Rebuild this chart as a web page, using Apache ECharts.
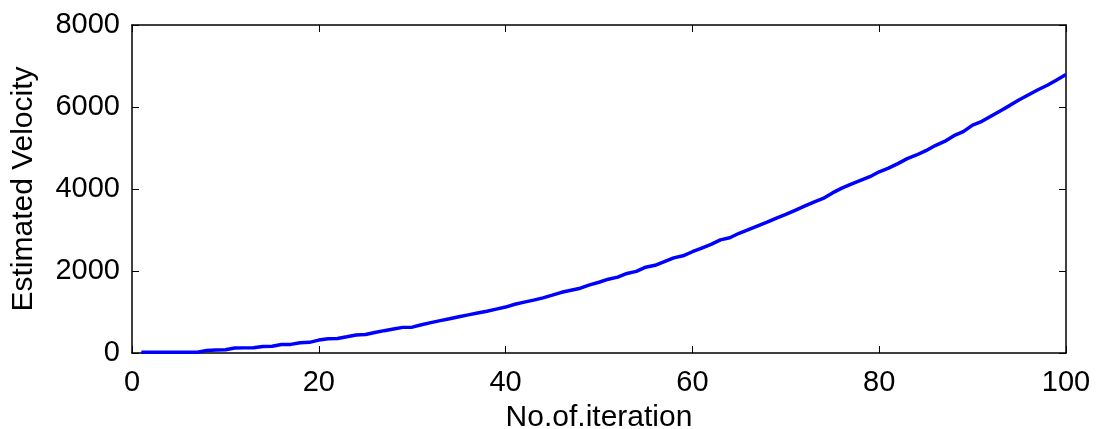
<!DOCTYPE html>
<html>
<head>
<meta charset="utf-8">
<script src="https://cdn.jsdelivr.net/npm/echarts@6/dist/echarts.min.js"></script>
<style>
  html, body { margin: 0; padding: 0; background: #fff; }
  #chart { width: 1097px; height: 429px; }
</style>
</head>
<body>
<div id="chart"></div>
<script>
// iterations 1..100
const iterations = [];
for (let i = 1; i <= 100; i++) iterations.push(i);

// estimated velocity
const velocity = [
  20, 20, 20, 20, 20, 20, 20, 60, 75, 78,
  120, 125, 128, 160, 166, 205, 210, 250, 260, 315,
  350, 352, 395, 440, 451, 500, 545, 585, 625, 630,
  690, 740, 790, 835, 885, 930, 975, 1020, 1070, 1120,
  1190, 1240, 1290, 1345, 1410, 1480, 1530, 1580, 1660, 1725,
  1800, 1850, 1940, 1990, 2093, 2140, 2230, 2320, 2370, 2470,
  2560, 2650, 2760, 2810, 2920, 3010, 3100, 3190, 3290, 3380,
  3480, 3580, 3680, 3770, 3905, 4020, 4120, 4210, 4300, 4420,
  4510, 4620, 4740, 4830, 4935, 5060, 5160, 5300, 5400, 5557,
  5650, 5780, 5910, 6040, 6175, 6300, 6420, 6530, 6660, 6795
];

const xTicks = [0, 20, 40, 60, 80, 100];
const yTicks = [0, 2000, 4000, 6000, 8000];

const font = 'Liberation Sans, Arial, sans-serif';
const chart = echarts.init(document.getElementById('chart'));

const boxAxisLine = { show: true, onZero: false, lineStyle: { color: '#000', width: 1.5 } };
const boxTick = { show: true, inside: true, length: 7, lineStyle: { color: '#000', width: 1 } };

chart.setOption({
  animation: false,
  backgroundColor: '#fff',
  grid: { left: 132, right: 31, top: 25, bottom: 76, outerBoundsMode: 'none', containLabel: false },
  xAxis: [{
    type: 'value',
    min: xTicks[0], max: xTicks[xTicks.length - 1], interval: 20,
    name: 'No.of.iteration',
    nameLocation: 'middle',
    nameGap: 50,
    nameTextStyle: { fontFamily: font, fontSize: 30, color: '#000' },
    axisLine: boxAxisLine,
    axisTick: boxTick,
    axisLabel: { fontFamily: font, fontSize: 29, color: '#000', margin: 15, formatter: v => String(v) },
    splitLine: { show: false }
  }, {
    type: 'value',
    position: 'top',
    min: 0, max: 100, interval: 20,
    axisLine: boxAxisLine,
    axisTick: boxTick,
    axisLabel: { show: false },
    splitLine: { show: false }
  }],
  yAxis: [{
    type: 'value',
    min: yTicks[0], max: yTicks[yTicks.length - 1], interval: 2000,
    name: 'Estimated Velocity',
    nameLocation: 'middle',
    nameGap: 93,
    nameTextStyle: { fontFamily: font, fontSize: 30, color: '#000' },
    axisLine: boxAxisLine,
    axisTick: boxTick,
    axisLabel: { fontFamily: font, fontSize: 29, color: '#000', margin: 12, formatter: v => String(v) },
    splitLine: { show: false }
  }, {
    type: 'value',
    position: 'right',
    min: 0, max: 8000, interval: 2000,
    axisLine: boxAxisLine,
    axisTick: boxTick,
    axisLabel: { show: false },
    splitLine: { show: false }
  }],
  series: [{
    type: 'line',
    data: iterations.map((it, i) => [it, velocity[i]]),
    showSymbol: false,
    lineStyle: { color: '#0000ff', width: 3.5 },
    clip: true
  }]
});
</script>
</body>
</html>
